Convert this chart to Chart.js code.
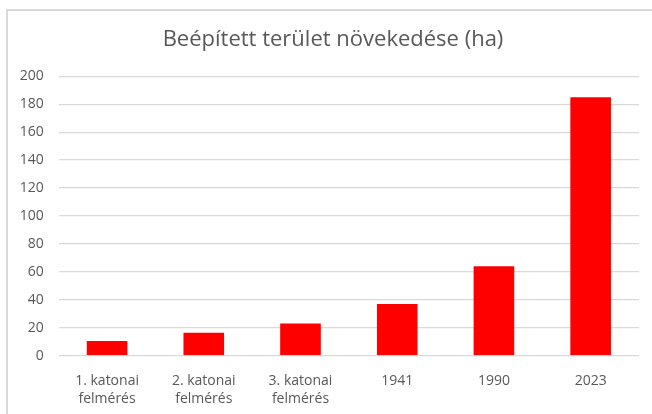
<!DOCTYPE html>
<html>
<head>
<meta charset="utf-8">
<script src="https://cdn.jsdelivr.net/npm/chart.js@4.4.1/dist/chart.umd.min.js"></script>
<style>
  html, body { margin: 0; padding: 0; background: #fff; }
  #wrap { position: relative; width: 652px; height: 414px; }
  #frame { position: absolute; left: 6px; top: 9px; right: 0; bottom: 0;
           border-left: 2px solid #d9d9d9; border-top: 2px solid #d9d9d9; }
  canvas { position: absolute; left: 0; top: 0; }
</style>
</head>
<body>
<div id="wrap">
  <div id="frame"></div>
  <canvas id="grafico" width="652" height="414"></canvas>
</div>
<script>
const categorias = [
  ['1. katonai', 'felmérés'],
  ['2. katonai', 'felmérés'],
  ['3. katonai', 'felmérés'],
  '1941',
  '1990',
  '2023'
];
const terulet = [10.5, 16.5, 23, 37, 64, 185];
const yTicks = [0, 20, 40, 60, 80, 100, 120, 140, 160, 180, 200];

const fonte = '"Open Sans", "Liberation Sans", sans-serif';
const szurke = '#595959';

new Chart(document.getElementById('grafico'), {
  type: 'bar',
  data: {
    labels: categorias,
    datasets: [{
      label: 'Beépített terület (ha)',
      data: terulet,
      backgroundColor: '#ff0000',
      borderWidth: 0,
      barPercentage: 0.42,
      categoryPercentage: 1
    }]
  },
  options: {
    responsive: false,
    animation: false,
    // a cím így kerül a 333-as x köré
    layout: { padding: { left: 14, right: 0, top: 0, bottom: 0 } },
    plugins: {
      legend: { display: false },
      tooltip: { enabled: false },
      title: {
        display: true,
        text: 'Beépített terület növekedése (ha)',
        color: szurke,
        font: { family: fonte, size: 22, weight: 'normal', lineHeight: 1.2 },
        padding: { top: 26.8, bottom: 23.1 }
      }
    },
    scales: {
      x: {
        grid: { display: false, drawTicks: false },
        border: { display: false },
        ticks: {
          color: szurke,
          font: { family: fonte, size: 14, lineHeight: 1.29 },
          padding: 16,
          maxRotation: 0,
          autoSkip: false
        },
        afterFit: s => { s.height = 58.3; }
      },
      y: {
        min: 0,
        max: 200,
        afterBuildTicks: s => { s.ticks = yTicks.map(v => ({ value: v })); },
        grid: { color: '#d9d9d9', lineWidth: 1.3, drawTicks: false },
        border: { display: false },
        ticks: {
          color: szurke,
          font: { family: fonte, size: 14 },
          padding: 15
        },
        afterFit: s => { s.width = 44.7; }
      },
      // üres jobb oldali sáv
      jobb: {
        position: 'right',
        grid: { display: false, drawTicks: false },
        border: { display: false },
        ticks: { display: false },
        afterFit: s => { s.width = 13; }
      }
    }
  }
});
</script>
</body>
</html>
